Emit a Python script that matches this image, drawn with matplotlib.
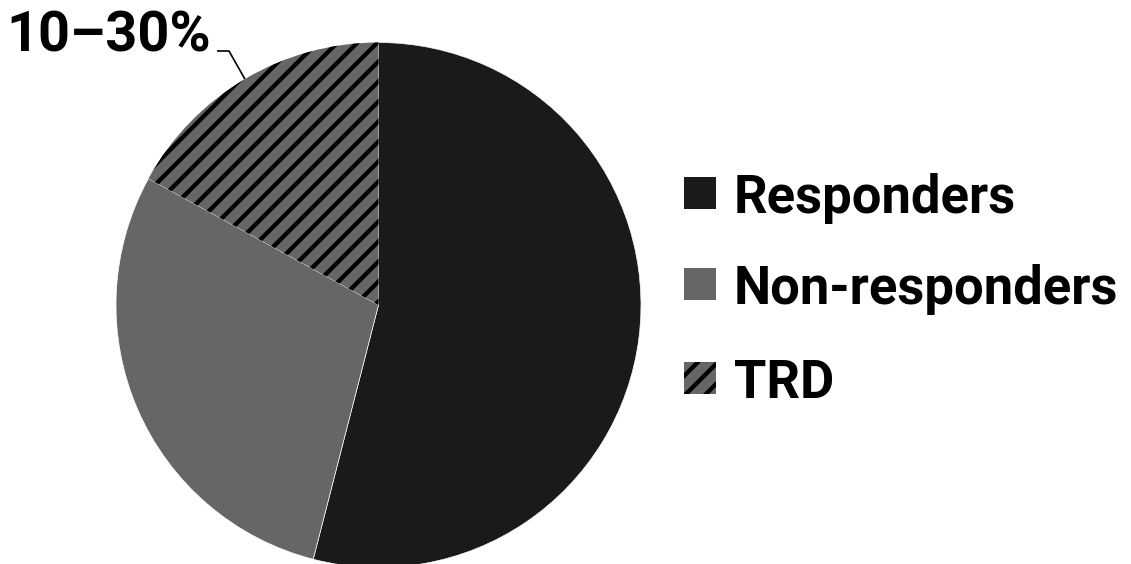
import numpy as np
import matplotlib
matplotlib.use("Agg")
import matplotlib.pyplot as plt
from matplotlib.patches import Rectangle

plt.rcParams['font.family'] = ['Roboto', 'DejaVu Sans']
plt.rcParams['hatch.linewidth'] = 2.6

labels = ['Responders', 'Non-responders', 'TRD']
shares = [54, 29, 17]
colors = ['#1a1a1a', '#666666', '#666666']
hatches = [None, None, '//']
trd_note = '10\u201330%'

W, H, DPI = 1131, 564, 120
fig = plt.figure(figsize=(W / DPI, H / DPI), dpi=DPI)

# pie axes: square box 525 px wide, centre at (378.5, 305) px from top-left
cx, cy, R = 378.5, 305, 262.5
ax = fig.add_axes([(cx - R) / W, (H - cy - R) / H, 2 * R / W, 2 * R / H])
wedges, _ = ax.pie(shares, colors=colors, startangle=90, counterclock=False,
                   wedgeprops=dict(edgecolor='white', linewidth=0.4))
for w, h in zip(wedges, hatches):
    if h:
        # hatch takes the edge colour, so keep the edge black but invisible
        w.set_hatch(h)
        w.set_edgecolor('black')
        w.set_linewidth(0)
    w.set_clip_on(False)
ax.set_xlim(-1, 1)
ax.set_ylim(-1, 1)
ax.axis('off')

# leader line for the TRD slice
trd = wedges[2]
mid = np.deg2rad((trd.theta1 + trd.theta2) / 2)
px = lambda x: (x - cx) / R
py = lambda y: (cy - y) / R
ax.plot([np.cos(mid), px(229), px(217)], [np.sin(mid), py(51), py(51)],
        color='black', lw=1.0, clip_on=False, solid_capstyle='butt')
ax.text(px(211), py(52), trd_note, ha='right', va='baseline',
        fontsize=33.5, fontweight='bold', clip_on=False)

# legend drawn by hand
rows_y = [193, 284, 378]
for lab, col, h, y in zip(labels, colors, hatches, rows_y):
    sq = Rectangle((684 / W, (H - y - 16) / H), 32 / W, 32 / H,
                   transform=fig.transFigure, facecolor=col,
                   edgecolor='black', linewidth=0, hatch=h)
    fig.patches.append(sq)
    fig.text(734 / W, (H - y) / H, lab, ha='left', va='center_baseline',
             fontsize=31.5, fontweight='bold')

fig.savefig('out.png', dpi=DPI, facecolor='white')
